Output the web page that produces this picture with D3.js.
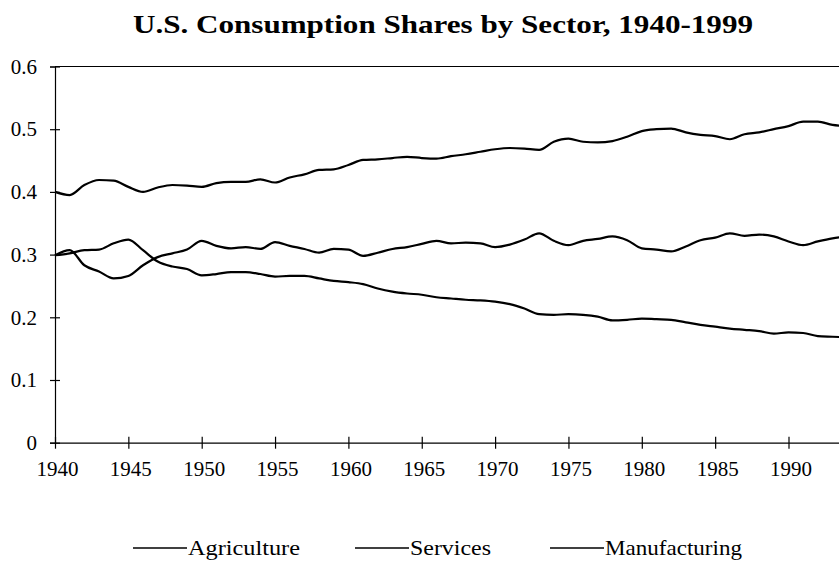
<!DOCTYPE html>
<html>
<head>
<meta charset="utf-8">
<script src="https://cdn.jsdelivr.net/npm/d3@7"></script>
<style>
  body { margin: 0; background: #fff; }
  svg { display: block; }
  svg text { font-family: "Liberation Serif", "Times New Roman", "DejaVu Serif", serif; fill: #000; }
</style>
</head>
<body>
<script>
// values
const years = [1940,1941,1942,1943,1944,1945,1946,1947,1948,1949,
  1950,1951,1952,1953,1954,1955,1956,1957,1958,1959,
  1960,1961,1962,1963,1964,1965,1966,1967,1968,1969,
  1970,1971,1972,1973,1974,1975,1976,1977,1978,1979,
  1980,1981,1982,1983,1984,1985,1986,1987,1988,1989,
  1990,1991,1992,1993,1994];

const agriculture = [0.299,0.302,0.307,0.308,0.318,0.324,0.307,0.289,0.281,0.277,
  0.267,0.269,0.272,0.272,0.269,0.265,0.266,0.266,0.262,0.258,
  0.256,0.253,0.246,0.241,0.238,0.236,0.232,0.230,0.228,0.227,
  0.225,0.221,0.214,0.205,0.204,0.205,0.204,0.201,0.195,0.196,
  0.198,0.197,0.196,0.192,0.188,0.185,0.182,0.180,0.178,0.174,
  0.176,0.175,0.170,0.169,0.168];

const services = [0.400,0.395,0.411,0.419,0.418,0.408,0.400,0.407,0.411,0.410,
  0.408,0.414,0.416,0.416,0.420,0.415,0.423,0.428,0.435,0.436,
  0.443,0.451,0.452,0.454,0.456,0.454,0.453,0.457,0.460,0.464,
  0.468,0.470,0.469,0.467,0.480,0.485,0.480,0.479,0.481,0.488,
  0.497,0.500,0.501,0.495,0.491,0.489,0.484,0.492,0.495,0.500,
  0.505,0.512,0.512,0.507,0.505];

const manufacturing = [0.299,0.307,0.283,0.273,0.262,0.266,0.283,0.296,0.302,0.308,
  0.322,0.314,0.310,0.312,0.309,0.320,0.314,0.309,0.303,0.309,
  0.308,0.298,0.303,0.309,0.312,0.317,0.322,0.318,0.319,0.318,
  0.312,0.316,0.324,0.334,0.322,0.315,0.322,0.325,0.329,0.323,
  0.310,0.308,0.305,0.313,0.323,0.327,0.334,0.330,0.332,0.329,
  0.321,0.315,0.321,0.326,0.329];

const yTicks = [0, 0.1, 0.2, 0.3, 0.4, 0.5, 0.6];
const xTicks = [1940,1945,1950,1955,1960,1965,1970,1975,1980,1985,1990];
const seriesNames = ["Agriculture", "Services", "Manufacturing"];

const W = 839, H = 562;
const svg = d3.select('body').append('svg')
  .attr('width', W).attr('height', H);

const x = d3.scaleLinear().domain([1940, 1999]).range([55, 55 + 59 * 14.67]);
const y = d3.scaleLinear().domain([0, 0.6]).range([442.7, 66.5]);

/* title - the scan is a bit wide, so stretch to its width */
svg.append('text')
  .attr('x', 443).attr('y', 33)
  .attr('text-anchor', 'middle')
  .attr('font-weight', 'bold')
  .attr('font-size', 26)
  .attr('textLength', 620)
  .attr('lengthAdjust', 'spacingAndGlyphs')
  .text('U.S. Consumption Shares by Sector, 1940-1999');

/* top frame line */
svg.append('line')
  .attr('x1', x(1940)).attr('x2', x(1999))
  .attr('y1', y(0.6)).attr('y2', y(0.6))
  .attr('stroke', '#000').attr('stroke-width', 1.2);

/* y axis */
const yAxis = svg.append('g')
  .attr('transform', `translate(${x(1940)},0)`)
  .call(d3.axisLeft(y).tickValues(yTicks).tickSize(5)
    .tickFormat(d => d === 0 ? '0' : d3.format('.1f')(d)));
yAxis.attr('font-family', null);
yAxis.select('.domain').attr('stroke-width', 1.2);
yAxis.selectAll('.tick line').attr('x1', 5).attr('stroke-width', 1.2);
yAxis.selectAll('.tick text')
  .attr('x', -18)
  .attr('font-size', 21);

/* x axis */
const xAxis = svg.append('g')
  .attr('transform', `translate(0,${y(0)})`)
  .call(d3.axisBottom(x).tickValues(xTicks).tickSize(6).tickSizeOuter(0)
    .tickFormat(d3.format('d')));
xAxis.attr('font-family', null);
xAxis.select('.domain').attr('stroke-width', 1.2);
xAxis.selectAll('.tick line').attr('y1', -6).attr('stroke-width', 1.2);
xAxis.selectAll('.tick text')
  .attr('y', 33)
  .attr('dy', null)
  .attr('x', 2)
  .attr('font-size', 21)
  .attr('textLength', 42)
  .attr('lengthAdjust', 'spacingAndGlyphs');

/* lines */
const line = d3.line()
  .x((d, i) => x(years[i]))
  .y(d => y(d))
  .curve(d3.curveMonotoneX);

[agriculture, services, manufacturing].forEach(s => {
  svg.append('path')
    .datum(s)
    .attr('d', line)
    .attr('fill', 'none')
    .attr('stroke', '#000')
    .attr('stroke-width', 2.2)
    .attr('stroke-linejoin', 'round');
});

/* legend */
const legendX = [133, 355, 550];
const legendTextW = [112, 81, 137];
const legend = svg.append('g').selectAll('g')
  .data(seriesNames)
  .enter().append('g')
  .attr('transform', (d, i) => `translate(${legendX[i]},548)`);
legend.append('line')
  .attr('x1', 0).attr('x2', 54)
  .attr('stroke', '#000').attr('stroke-width', 1.6);
legend.append('text')
  .attr('x', 55).attr('y', 7)
  .attr('font-size', 21)
  .attr('textLength', (d, i) => legendTextW[i])
  .attr('lengthAdjust', 'spacingAndGlyphs')
  .text(d => d);
</script>
</body>
</html>
